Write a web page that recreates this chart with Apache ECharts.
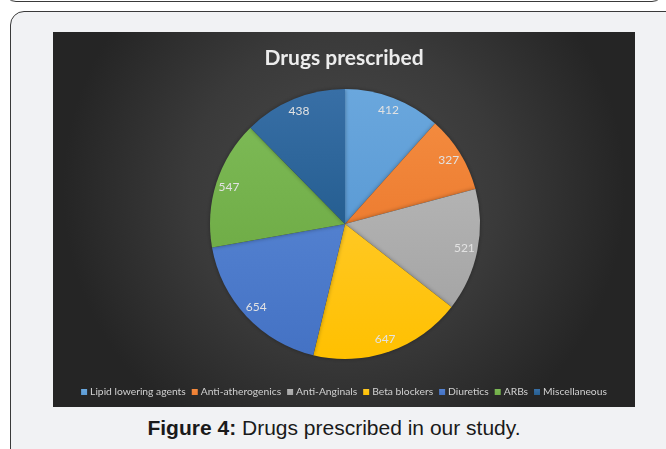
<!DOCTYPE html>
<html>
<head>
<meta charset="utf-8">
<script src="https://cdn.jsdelivr.net/npm/echarts@6/dist/echarts.min.js"></script>
<style>
  html, body { margin: 0; padding: 0; background: #ffffff; width: 666px; height: 449px; overflow: hidden; position: relative; }
  .prev-frame { position: absolute; left: 4px; top: -40px; width: 658px; height: 40px; border: 1.5px solid #3a3a3a; border-radius: 12px; background: #ffffff; }
  .frame { position: absolute; left: 10px; top: 11px; width: 700px; height: 450px; border: 1.5px solid #3a3a3a; border-radius: 14px; background: #f1f2f4; }
  #chart { position: absolute; left: 53px; top: 32px; width: 582px; height: 375px; }
  .caption { position: absolute; left: 0; width: 668px; top: 416px; text-align: center; font-family: "Liberation Sans", Arial, sans-serif; font-size: 21px; color: #1a1a1a; }
  .caption b { font-weight: bold; }
</style>
</head>
<body>
<div class="prev-frame"></div>
<div class="frame"></div>
<div id="chart"></div>
<div class="caption"><b>Figure 4:</b> Drugs prescribed in our study.</div>
<script>
// Drug classes and the number of prescriptions for each
const categories = ['Lipid lowering agents', 'Anti-atherogenics', 'Anti-Anginals', 'Beta blockers', 'Diuretics', 'ARBs', 'Miscellaneous'];
const prescriptions = [412, 327, 521, 647, 654, 547, 438];
const sliceColors = ['#5b9bd5', '#ed7d31', '#a5a5a5', '#ffc000', '#4472c4', '#70ad47', '#255e91'];
const sliceColorsLight = ['#6aa7dd', '#f38a3e', '#b3b3b3', '#ffc823', '#5280cf', '#7cb955', '#386fa6'];

const chart = echarts.init(document.getElementById('chart'), null, { renderer: 'canvas' });

const pieCenter = [292, 192];
const pieRadius = 135;

const slices = categories.map((name, i) => ({
  name: name,
  value: prescriptions[i],
  itemStyle: {
    color: new echarts.graphic.LinearGradient(0, 0, 0, 1, [
      { offset: 0, color: sliceColorsLight[i] },
      { offset: 1, color: sliceColors[i] }
    ])
  }
}));

const labelRing = categories.map((name, i) => ({ name: name, value: prescriptions[i] }));

chart.setOption({
  animation: false,
  backgroundColor: new echarts.graphic.RadialGradient(0.5, 0.42, 0.75, [
    { offset: 0, color: '#4a4a4a' },
    { offset: 0.55, color: '#3a3a3a' },
    { offset: 1, color: '#252525' }
  ]),
  title: {
    text: 'Drugs prescribed',
    left: 'center',
    top: 11,
    textStyle: { fontFamily: 'Lato', fontWeight: 'bold', fontSize: 21, color: '#ececec' }
  },
  legend: {
    data: categories,
    left: 'center',
    top: 350,
    icon: 'rect',
    itemWidth: 6,
    itemHeight: 6,
    itemGap: 6,
    selectedMode: false,
    textStyle: { fontFamily: 'Lato', fontSize: 10.3, color: '#d0d0d0', padding: [0, 0, 0, -2] }
  },
  color: sliceColors,
  series: [
    {
      type: 'pie',
      center: pieCenter,
      radius: pieRadius,
      startAngle: 90,
      clockwise: true,
      silent: true,
      label: { show: false },
      labelLine: { show: false },
      itemStyle: { shadowBlur: 4, shadowColor: 'rgba(0,0,0,0.35)' },
      data: slices
    },
    {
      // transparent ring that carries the value labels near the outer edge
      type: 'pie',
      center: pieCenter,
      radius: [pieRadius * 0.76, pieRadius],
      startAngle: 90,
      clockwise: true,
      silent: true,
      legendHoverLink: false,
      itemStyle: { color: 'rgba(0,0,0,0)' },
      label: {
        show: true,
        position: 'inside',
        formatter: '{c}',
        fontFamily: 'Lato',
        fontSize: 12,
        color: '#e2e2e2'
      },
      labelLine: { show: false },
      data: labelRing
    }
  ]
});
</script>
</body>
</html>
